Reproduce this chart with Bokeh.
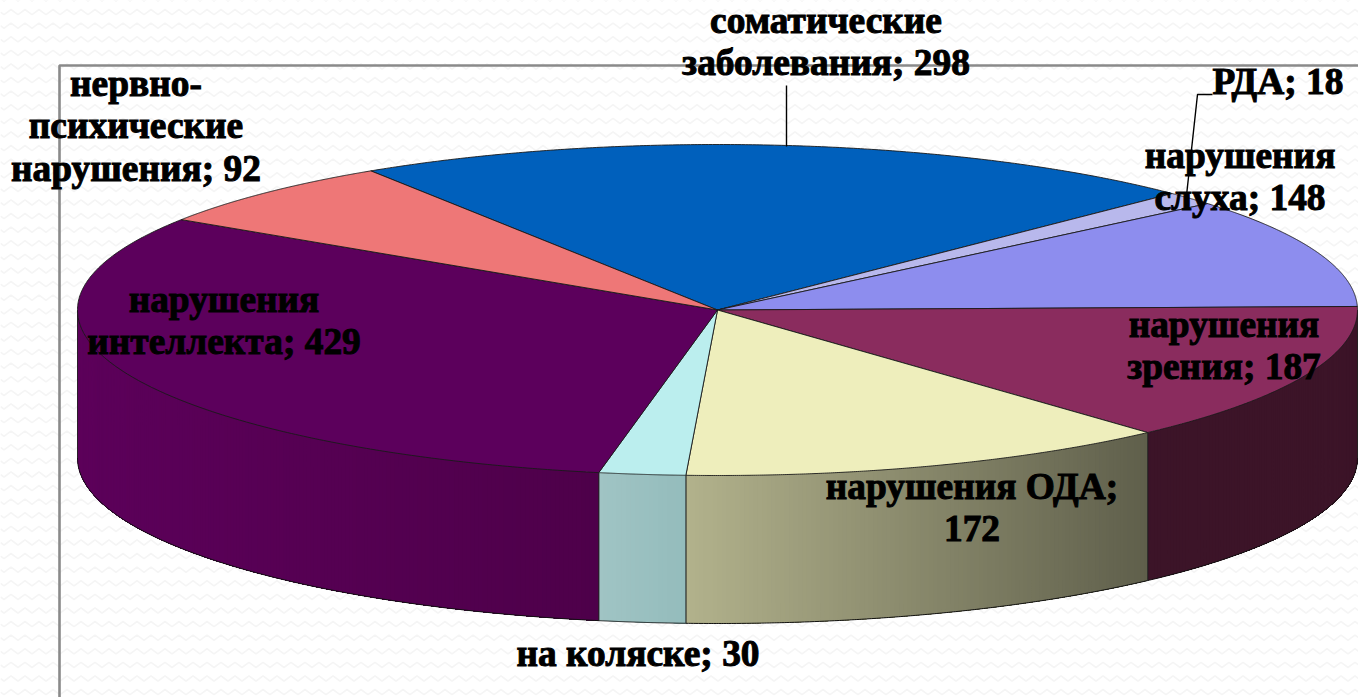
import numpy as np
from bokeh.plotting import figure
from bokeh.models import Range1d
from bokeh.core.properties import value
from bokeh.embed import file_html
from bokeh.resources import INLINE

# data
names = ["соматические\nзаболевания", "РДА", "нарушения\nслуха", "нарушения\nзрения",
         "нарушения ОДА;\n", "на коляске", "нарушения\nинтеллекта", "нервно-\nпсихические\nнарушения"]
values = [298, 18, 148, 187, 172, 30, 429, 92]
top_colors = ["#0060BC", "#B8B8EC", "#8D8DEE", "#8A2C5E", "#EEEEBC", "#BBEEEE", "#5C005C", "#EE7777"]
wall_left = ["#0060BC", "#B8B8EC", "#8D8DEE", "#3C1428", "#B2B28C", "#A0C4C4", "#5C005A", "#EE7777"]
wall_right = ["#0060BC", "#B8B8EC", "#8D8DEE", "#3C1428", "#5F5F4B", "#94BCBC", "#4E004A", "#EE7777"]
label_x = [825.5, 1277.5, 1239.5, 1223.5, 971.5, 637.5, 223.5, 135.5]
label_y = [41, 81, 176, 345, 507, 653, 320, 125.5]

# layout
CX, CY, RX, RY, DEPTH = 717.0, 309.5, 640.0, 165.5, 148.0
START = 327.2
W, H = 1358, 697


def rgb(h):
    return np.array([int(h[i:i + 2], 16) for i in (1, 3, 5)], float)


def ell(a, dy=0.0):
    r = np.radians(a)
    return CX + RX * np.sin(r), CY - RY * np.cos(r) + dy


p = figure(width=W, height=H, output_backend="svg", toolbar_location=None,
           x_range=Range1d(0, W), y_range=Range1d(H, 0), min_border=0)
p.axis.visible = False
p.grid.visible = False
p.outline_line_color = None
p.background_fill_color = "#FFFFFF"
p.border_fill_color = "#FFFFFF"

# faint woven background
wx, wy = [], []
for row in np.arange(-2, 700, 13.6):
    xs = np.arange(0, 1366, 3.5)
    wx.append(xs)
    wy.append(row + 2.6 * np.sin(xs / 14.0 * 2 * np.pi))
p.multi_line(wx, wy, line_color="#F5F5F5", line_width=1.6)

# frame behind the pie
p.line([59, 59, 1358], [697, 65, 65], line_color="#8A8A8A", line_width=2.6)

total = sum(values)
edges = START + np.concatenate([[0], np.cumsum(values)]) * 360.0 / total

# side walls: each slice is painted from its left end, each step overlaying the rest
for i, v in enumerate(values):
    a0, a1 = edges[i], edges[i + 1]
    vis0, vis1 = max(a0, 90.0), min(a1, 270.0)
    if vis1 <= vis0:
        vis0, vis1 = max(a0 - 360, 90.0), min(a1 - 360, 270.0)
    if vis1 <= vis0:
        continue
    n = max(2, int((vis1 - vis0) * 2.5))
    angs = np.linspace(vis1, vis0, n + 1)
    xl, xr = ell(vis1)[0], ell(vis0)[0]
    cl, cr = rgb(wall_left[i]), rgb(wall_right[i])
    for j in range(n):
        seg = np.linspace(angs[j], vis0, max(3, n - j + 2))
        x, y = ell(seg)
        _, yb = ell(seg, DEPTH)
        t = (ell(0.5 * (angs[j] + angs[j + 1]))[0] - xl) / (xr - xl)
        c = cl + (cr - cl) * t
        col = "#%02X%02X%02X" % tuple(int(round(k)) for k in c)
        p.patch(np.r_[x, x[::-1]], np.r_[y, yb[::-1]], fill_color=col, line_color=None)
    seg = np.linspace(vis0, vis1, 200)
    x, y = ell(seg)
    _, yb = ell(seg, DEPTH)
    p.line(x, yb, line_color="#111111", line_width=1)
    for a in (vis0, vis1):
        ex, ey = ell(a)
        p.line([ex, ex], [ey, ey + DEPTH], line_color="#222222", line_width=0.9)

# top face
for i, v in enumerate(values):
    seg = np.linspace(edges[i], edges[i + 1], 240)
    x, y = ell(seg)
    p.patch(np.r_[CX, x], np.r_[CY, y], fill_color=top_colors[i], line_color="#1A1A1A", line_width=0.9)

# leader lines
p.line([786, 786], [85, 146], line_color="#000000", line_width=1.4)
p.line([1212, 1197, 1186], [94, 94, 195], line_color="#000000", line_width=1.4)

# labels
texts = []
for n, v in zip(names, values):
    if n.endswith(";\n"):
        texts.append(f"{n}{v}")
    else:
        texts.append(f"{n}; {v}")
p.text(label_x, label_y, text=texts, text_font=value("Liberation Serif"), text_font_style="bold",
       text_font_size="37.4px", text_align="center", text_baseline="middle",
       text_color="#000000", text_line_height=1.03,
       text_outline_color="#000000")

open("out.html", "w").write(file_html(p, INLINE))
